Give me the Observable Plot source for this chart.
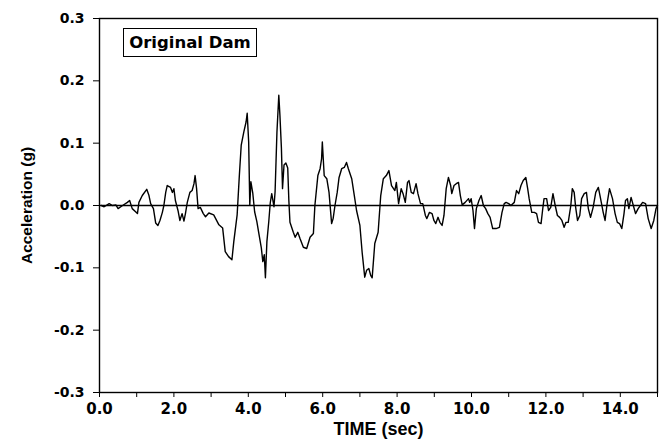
<!DOCTYPE html>
<html>
<head>
<meta charset="utf-8">
<script src="https://cdn.jsdelivr.net/npm/d3@7"></script>
<script src="https://cdn.jsdelivr.net/npm/@observablehq/plot@0.6"></script>
<style>
  body { margin: 0; background: #fff; }
  #wrap { position: relative; width: 664px; height: 444px; }
  #note { position: absolute; left: 123px; top: 28px; width: 134px; height: 29px;
          border: 1.5px solid #000; box-sizing: border-box; background: #fff;
          font: bold 16.5px "DejaVu Sans", sans-serif; line-height: 27px; text-align: center; color: #000; }
</style>
</head>
<body>
<div id="wrap"><div id="note">Original Dam</div></div>
<script>
const times = [0.05,0.125,0.26,0.35,0.44,0.5,0.62,0.75,0.81,0.88,0.97,1.02,1.06,1.15,1.27,1.33,1.375,1.45,1.51,1.57,1.625,1.69,1.73,1.78,1.82,1.91,1.96,2.0,2.04,2.11,2.16,2.22,2.27,2.31,2.36,2.43,2.49,2.54,2.57,2.61,2.65,2.71,2.79,2.85,2.94,3.07,3.21,3.31,3.38,3.47,3.56,3.61,3.70,3.76,3.81,3.88,3.94,3.97,4.01,4.04,4.07,4.12,4.17,4.23,4.29,4.35,4.39,4.43,4.46,4.5,4.55,4.59,4.63,4.69,4.72,4.77,4.82,4.85,4.89,4.92,4.96,5.01,5.06,5.09,5.12,5.21,5.26,5.33,5.39,5.48,5.57,5.66,5.75,5.79,5.87,5.93,5.97,5.99,6.04,6.11,6.17,6.24,6.28,6.33,6.39,6.44,6.51,6.58,6.64,6.69,6.78,6.85,6.91,7.0,7.06,7.13,7.18,7.24,7.29,7.33,7.40,7.49,7.56,7.63,7.71,7.78,7.85,7.94,7.98,8.04,8.11,8.16,8.22,8.28,8.32,8.38,8.44,8.51,8.56,8.63,8.69,8.76,8.80,8.87,8.94,8.99,9.04,9.10,9.15,9.21,9.26,9.32,9.38,9.44,9.47,9.53,9.59,9.65,9.70,9.75,9.83,9.92,9.95,9.99,10.04,10.08,10.13,10.2,10.26,10.32,10.38,10.44,10.5,10.57,10.66,10.75,10.82,10.88,10.93,11.0,11.06,11.15,11.21,11.27,11.33,11.39,11.46,11.51,11.55,11.62,11.69,11.75,11.8,11.87,11.91,11.95,12.02,12.07,12.13,12.19,12.25,12.31,12.37,12.43,12.49,12.54,12.6,12.67,12.71,12.76,12.8,12.85,12.91,12.96,13.03,13.09,13.14,13.2,13.27,13.34,13.41,13.47,13.54,13.59,13.65,13.71,13.79,13.86,13.92,13.98,14.04,14.1,14.14,14.19,14.23,14.29,14.35,14.41,14.48,14.54,14.6,14.68,14.75,14.83,14.9,14.96,15.0];
const acceleration = [0,-0.002,0.003,0,0.001,-0.005,0,0.005,0.008,-0.005,-0.01,-0.013,0.005,0.016,0.026,0.016,0.003,-0.005,-0.028,-0.032,-0.024,-0.011,0,0.021,0.032,0.029,0.021,0.027,0.008,-0.008,-0.024,-0.013,-0.025,-0.013,0.005,0.021,0.024,0.035,0.048,0.027,-0.005,-0.003,-0.013,-0.018,-0.012,-0.015,-0.031,-0.036,-0.074,-0.082,-0.087,-0.058,-0.015,0.049,0.097,0.118,0.134,0.148,0.102,0.001,0.038,0.02,-0.01,-0.026,-0.047,-0.068,-0.09,-0.079,-0.116,-0.058,-0.026,0.004,0.019,-0.002,0.022,0.118,0.177,0.145,0.092,0.027,0.065,0.068,0.06,0.008,-0.027,-0.043,-0.051,-0.043,-0.053,-0.067,-0.069,-0.051,-0.045,0,0.048,0.059,0.075,0.102,0.048,0.043,0.021,-0.029,-0.021,0,0.021,0.045,0.059,0.061,0.069,0.059,0.043,0.016,-0.008,-0.032,-0.075,-0.115,-0.104,-0.101,-0.112,-0.116,-0.061,-0.043,0.016,0.043,0.048,0.056,0.032,0.024,0.037,0.003,0.027,0.019,0.005,0.037,0.04,0.021,0.019,0.035,0.019,0.003,0.003,-0.016,-0.021,-0.011,-0.013,-0.024,-0.029,-0.019,-0.027,-0.032,-0.016,0.027,0.045,0.032,0.019,0.032,0.035,0.037,0.016,0.001,0.005,0.011,0.005,0.011,-0.008,-0.037,-0.005,0.008,0.016,0,-0.005,-0.013,-0.019,-0.037,-0.037,-0.035,-0.011,0.003,0.005,0.003,0,0.005,0.024,0.019,0.032,0.04,0.045,0.027,0.011,-0.011,-0.011,-0.013,-0.027,-0.029,-0.008,0.011,0.011,-0.008,-0.003,0.019,0,-0.016,-0.019,-0.024,-0.035,-0.027,-0.027,0,0.027,0.021,-0.003,-0.024,-0.016,0.011,0.019,0.021,-0.005,-0.019,-0.003,0.021,0.029,0.011,-0.011,-0.024,0.005,0.027,0.011,-0.013,-0.027,-0.029,-0.037,-0.013,0.008,0.011,-0.005,0.013,0,-0.013,-0.005,0,0.005,0.003,-0.021,-0.037,-0.024,-0.005,0];
const yTicks = [-0.3, -0.2, -0.1, 0, 0.1, 0.2, 0.3];
const xTicks = [0,1,2,3,4,5,6,7,8,9,10,11,12,13,14,15];
const xTitle = "TIME (sec)";
const yTitle = "Acceleration (g)";

const series = times.map((t, i) => ({t, a: acceleration[i]}));

const chart = Plot.plot({
  width: 664, height: 444,
  marginLeft: 99, marginRight: 7, marginTop: 18, marginBottom: 52,
  style: {fontFamily: "'DejaVu Sans', sans-serif", fontWeight: "bold", background: "white", color: "black"},
  x: {domain: [0, 15]},
  y: {domain: [-0.3, 0.3]},
  marks: [
    Plot.ruleY([0], {stroke: "black", strokeWidth: 1.6}),
    Plot.line(series, {x: "t", y: "a", stroke: "black", strokeWidth: 1.4}),
    Plot.frame({stroke: "black", strokeWidth: 1.4}),
    Plot.axisY(yTicks, {tickSize: 6, tickPadding: 9, fontSize: 14, tickFormat: d => d.toFixed(1), label: null}),
    Plot.axisX(xTicks, {tickSize: 5, tickPadding: 6, fontSize: 15,
      tickFormat: d => d % 2 === 0 && d < 15 ? d.toFixed(1) : "", label: null}),
    Plot.text([yTitle], {frameAnchor: "left", textAnchor: "middle", rotate: -90, dx: -72, fontSize: 15.5,
      fontFamily: "'Liberation Sans', Arial, sans-serif", fontWeight: "bold", fill: "black"}),
    Plot.text([xTitle], {frameAnchor: "bottom", dy: 42, fontSize: 18,
      fontFamily: "'Liberation Sans', Arial, sans-serif", fontWeight: "bold", fill: "black"})
  ]
});
document.getElementById("wrap").prepend(chart);
</script>
</body>
</html>
